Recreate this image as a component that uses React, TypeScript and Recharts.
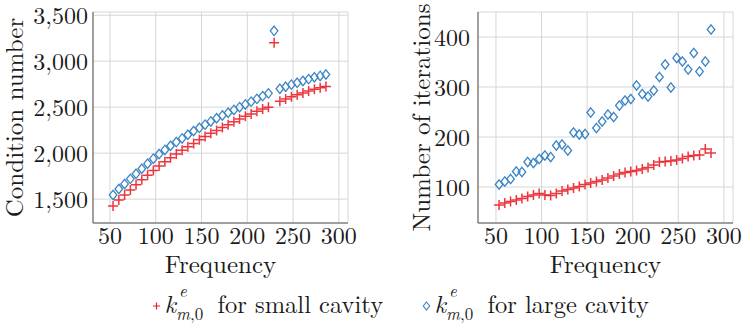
import React from 'react';
import { ScatterChart, Scatter, XAxis, YAxis, CartesianGrid } from 'recharts';

// frequencies shared by both panels
const frequency = [
  53.4, 59.7, 66.0, 72.3, 78.5, 84.8, 91.1, 97.4, 103.7, 110.0,
  116.2, 122.5, 128.8, 135.1, 141.4, 147.7, 153.9, 160.2, 166.5, 172.8,
  179.1, 185.4, 191.6, 197.9, 204.2, 210.5, 216.8, 223.1, 229.3, 235.6,
  241.9, 248.2, 254.5, 260.8, 267.0, 273.3, 279.6, 285.9,
];

const condSmall = [
  1425, 1490, 1545, 1600, 1655, 1710, 1760, 1810, 1860, 1905,
  1950, 1990, 2030, 2070, 2105, 2145, 2180, 2215, 2245, 2280,
  2310, 2340, 2370, 2400, 2425, 2455, 2480, 2500, 3200, 2565,
  2590, 2612, 2635, 2655, 2675, 2695, 2710, 2725,
];

const condLarge = [
  1545, 1610, 1665, 1720, 1775, 1830, 1885, 1940, 1990, 2035,
  2080, 2120, 2160, 2200, 2240, 2275, 2310, 2345, 2380, 2410,
  2440, 2470, 2500, 2530, 2560, 2590, 2620, 2650, 3330, 2700,
  2722, 2745, 2765, 2785, 2805, 2825, 2840, 2855,
];

const iterSmall = [
  64, 68, 71, 74, 77, 81, 84, 87, 84, 83,
  87, 92, 95, 98, 101, 105, 108, 111, 114, 118,
  122, 126, 129, 131, 133, 136, 139, 144, 150, 151,
  152, 154, 157, 161, 163, 164, 176, 168,
];

const iterLarge = [
  105, 111, 116, 131, 130, 150, 148, 156, 163, 160,
  183, 185, 173, 209, 205, 206, 249, 218, 231, 245,
  240, 263, 273, 276, 303, 286, 281, 293, 320, 345,
  299, 358, 351, 335, 368, 331, 351, 415,
];

const xTicks = [50, 100, 150, 200, 250, 300];
const condTicks = [1500, 2000, 2500, 3000, 3500];
const iterTicks = [100, 200, 300, 400];

const toRows = (ys: number[]) => frequency.map((f, i) => ({ f, v: ys[i] }));

const RED = '#ea1f27';
const BLUE = '#3d85c6';
const FRAME = '#555';
const INK = '#1a1a1a';
const FONT = "'Latin Modern Roman', 'Liberation Serif'";
const tickStyle = { fill: INK, fontSize: 24, fontFamily: FONT };

const PlusShape = (props: any) => {
  const { cx, cy } = props;
  return (
    <path
      d={`M${cx - 5},${cy}h10M${cx},${cy - 5}v10`}
      stroke={RED}
      strokeWidth={1.5}
      strokeOpacity={0.9}
      fill="none"
    />
  );
};

const DiamondShape = (props: any) => {
  const { cx, cy } = props;
  return (
    <path
      d={`M${cx},${cy - 4.7}L${cx + 3.8},${cy}L${cx},${cy + 4.7}L${cx - 3.8},${cy}Z`}
      stroke={BLUE}
      strokeWidth={1.3}
      fill="none"
    />
  );
};

function Panel(props: {
  width: number;
  yWidth: number;
  xDomain: [number, number];
  yDomain: [number, number];
  yTicks: number[];
  yLabel: string;
  yLabelOffset: number;
  yTickMargin: number;
  small: number[];
  large: number[];
  comma?: boolean;
}) {
  const fmt = (v: number) => (props.comma ? v.toLocaleString('en-US') : String(v));
  return (
    <ScatterChart
      width={props.width}
      height={280}
      margin={{ top: 12, right: props.width - props.yWidth - 255, bottom: 0, left: 0 }}
      style={{ overflow: 'visible' }}
    >
      <CartesianGrid stroke="#d6d6d6" />
      <XAxis
        type="number"
        dataKey="f"
        domain={props.xDomain}
        ticks={xTicks}
        height={57}
        tickLine={false}
        tickSize={0}
        tickMargin={4}
        axisLine={{ stroke: FRAME }}
        tick={tickStyle}
        label={{ value: 'Frequency', position: 'insideBottom', offset: 7, style: { fill: INK, fontSize: 25, fontFamily: FONT } }}
      />
      <XAxis xAxisId="top" orientation="top" type="number" domain={props.xDomain} height={0} tick={false} tickLine={false} axisLine={{ stroke: FRAME }} />
      <YAxis
        type="number"
        dataKey="v"
        domain={props.yDomain}
        ticks={props.yTicks}
        width={props.yWidth}
        tickLine={false}
        tickSize={0}
        tickMargin={props.yTickMargin}
        axisLine={{ stroke: FRAME }}
        tick={tickStyle}
        tickFormatter={fmt}
        label={{
          value: props.yLabel,
          angle: -90,
          position: 'insideLeft',
          offset: props.yLabelOffset,
          style: { textAnchor: 'middle', fill: INK, fontSize: 25, fontFamily: FONT },
        }}
      />
      <YAxis yAxisId="right" orientation="right" type="number" domain={props.yDomain} width={0} tick={false} tickLine={false} axisLine={{ stroke: FRAME }} />
      <Scatter data={toRows(props.small)} shape={PlusShape} isAnimationActive={false} />
      <Scatter data={toRows(props.large)} shape={DiamondShape} isAnimationActive={false} />
    </ScatterChart>
  );
}

// one legend entry: marker, k^e_{m,0}, text
function LegendEntry({ x, marker, text }: { x: number; marker: 'plus' | 'diamond'; text: string }) {
  const cy = 306;
  const base = 313;
  return (
    <g fontFamily={FONT} fill={INK}>
      {marker === 'plus' ? (
        <path d={`M${x - 3.5},${cy}h7M${x},${cy - 3.5}v7`} stroke={RED} strokeWidth={1.2} />
      ) : (
        <path d={`M${x},${cy - 4}L${x + 3.2},${cy}L${x},${cy + 4}L${x - 3.2},${cy}Z`} stroke={BLUE} strokeWidth={1.1} fill="none" />
      )}
      <text x={x + 8} y={base} fontSize={25} fontStyle="italic">k</text>
      <text x={x + 22.5} y={base - 16} fontSize={17} fontStyle="italic">e</text>
      <text x={x + 19.5} y={base + 7} fontSize={17}>
        <tspan fontStyle="italic">m</tspan>,0
      </text>
      <text x={x + 61} y={base} fontSize={24.5}>{text}</text>
    </g>
  );
}

export default function App() {
  return (
    <div style={{ position: 'absolute', left: 0, top: 0, width: 747, height: 326, background: '#fff' }}>
      <div style={{ position: 'absolute', left: 0, top: 0 }}>
        <Panel
          width={360}
          yWidth={93}
          xDomain={[31.5, 310]}
          yDomain={[1240, 3535]}
          yTicks={condTicks}
          yLabel="Condition number"
          yLabelOffset={14}
          yTickMargin={5}
          small={condSmall}
          large={condLarge}
          comma
        />
      </div>
      <div style={{ position: 'absolute', left: 370, top: 0 }}>
        <Panel
          width={377}
          yWidth={108}
          xDomain={[30.3, 310]}
          yDomain={[28, 450]}
          yTicks={iterTicks}
          yLabel="Number of iterations"
          yLabelOffset={51}
          yTickMargin={8}
          small={iterSmall}
          large={iterLarge}
        />
      </div>
      <svg width={747} height={56} viewBox="0 270 747 56" style={{ position: 'absolute', left: 0, top: 270 }}>
        <LegendEntry x={156.5} marker="plus" text="for small cavity" />
        <LegendEntry x={426.5} marker="diamond" text="for large cavity" />
      </svg>
    </div>
  );
}
